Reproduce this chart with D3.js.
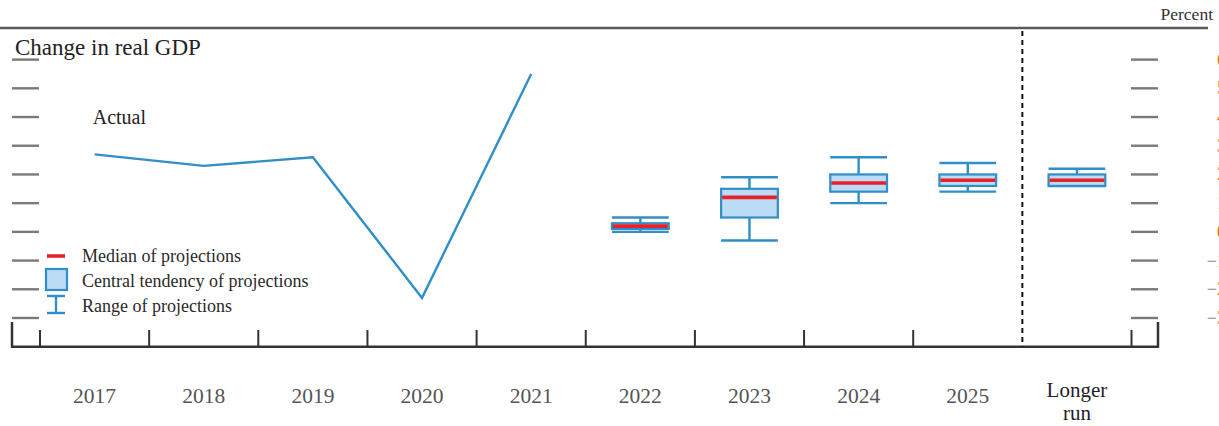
<!DOCTYPE html>
<html>
<head>
<meta charset="utf-8">
<script src="https://cdn.jsdelivr.net/npm/d3@7"></script>
<style>
html,body{margin:0;padding:0;background:#fff;}
svg{display:block;}
text{font-family:"Liberation Serif","Times New Roman",serif;}
</style>
</head>
<body>
<script>
// ---- data ----
const categories = ["2017","2018","2019","2020","2021","2022","2023","2024","2025","Longer run"];
const actualYears = ["2017","2018","2019","2020","2021"];
const actualValues = [2.7, 2.3, 2.6, -2.3, 5.5];
const projYears = ["2022","2023","2024","2025","Longer run"];
const projMedian = [0.2, 1.2, 1.7, 1.8, 1.8];
const ctLow = [0.1, 0.5, 1.4, 1.6, 1.6];
const ctHigh = [0.3, 1.5, 2.0, 2.0, 2.0];
const rangeLow = [0.0, -0.3, 1.0, 1.4, 1.6];
const rangeHigh = [0.5, 1.9, 2.6, 2.4, 2.2];
const yTicks = [6, 5, 4, 3, 2, 1, 0, -1, -2, -3];
const legendLabels = ["Median of projections", "Central tendency of projections", "Range of projections"];

const W = 1219, H = 426;
const svg = d3.select("body").append("svg").attr("width", W).attr("height", H);

const x = d3.scaleBand().domain(categories).range([40, 1131.5]).paddingInner(0).paddingOuter(0);
const y = d3.scaleLinear().domain([-4, 7]).range([346.7, 30.9]);
const bw = x.bandwidth();
const cx = d => x(d) + bw / 2;

const blue = "#2f8fc6", boxFill = "#bcdcf5", red = "#e8202a", tickGray = "#7a7a7a";

// top rule
svg.append("line").attr("x1", 0).attr("x2", 1208).attr("y1", 28).attr("y2", 28)
  .attr("stroke", "#5a5a5a").attr("stroke-width", 2.5);
svg.append("text").attr("x", 1213).attr("y", 20).attr("text-anchor", "end")
  .attr("font-size", 17.5).attr("fill", "#333").text("Percent");

// title
svg.append("text").attr("x", 15).attr("y", 55).attr("font-size", 23).attr("fill", "#222")
  .text("Change in real GDP");

// y tick segments (left and right)
const yt = svg.append("g");
yTicks.forEach(v => {
  yt.append("line").attr("x1", 12).attr("x2", 39).attr("y1", y(v)).attr("y2", y(v))
    .attr("stroke", tickGray).attr("stroke-width", 2.4);
  yt.append("line").attr("x1", 1131).attr("x2", 1158).attr("y1", y(v)).attr("y2", y(v))
    .attr("stroke", tickGray).attr("stroke-width", 2.4);
  // right tick labels (mostly beyond the window edge, as in the reference)
  if (v < 0) {
    yt.append("text").attr("x", 1217).attr("y", y(v) + 6).attr("text-anchor", "end")
      .attr("font-size", 18).attr("fill", "#8a8a8a").text("\u2212");
  }
  yt.append("text").attr("x", 1217).attr("y", y(v) + 6).attr("text-anchor", "start")
    .attr("font-size", 18).attr("fill", "#c8782a").text(Math.abs(v));
});

// bottom axis
const ax = svg.append("g");
ax.append("line").attr("x1", 12).attr("x2", 1158).attr("y1", 346.7).attr("y2", 346.7)
  .attr("stroke", "#333").attr("stroke-width", 2.5);
ax.append("line").attr("x1", 12).attr("x2", 12).attr("y1", 322).attr("y2", 347.9)
  .attr("stroke", "#333").attr("stroke-width", 2.5);
ax.append("line").attr("x1", 1158).attr("x2", 1158).attr("y1", 322).attr("y2", 347.9)
  .attr("stroke", "#333").attr("stroke-width", 2.5);
const boundaries = categories.map(c => x(c)).concat([x.range()[1]]);
boundaries.forEach((b, i) => {
  if (i === 9) return; // dashed separator instead
  ax.append("line").attr("x1", b).attr("x2", b).attr("y1", 330).attr("y2", 346.7)
    .attr("stroke", "#333").attr("stroke-width", 2);
});
// dashed separator
svg.append("line").attr("x1", x("Longer run")).attr("x2", x("Longer run"))
  .attr("y1", y(7)).attr("y2", 346.7)
  .attr("stroke", "#111").attr("stroke-width", 2).attr("stroke-dasharray", "5,4");

// x labels
categories.forEach(c => {
  if (c === "Longer run") {
    const t = svg.append("text").attr("text-anchor", "middle").attr("font-size", 21).attr("fill", "#1e1e2a");
    t.append("tspan").attr("x", cx(c)).attr("y", 397).text("Longer");
    t.append("tspan").attr("x", cx(c)).attr("y", 420).text("run");
  } else {
    svg.append("text").attr("x", cx(c)).attr("y", 403.3).attr("text-anchor", "middle")
      .attr("font-size", 21.5).attr("fill", "#555").text(c);
  }
});

// actual line
const line = d3.line().x((d, i) => cx(actualYears[i])).y(d => y(d));
svg.append("path").datum(actualValues).attr("d", line).attr("fill", "none")
  .attr("stroke", blue).attr("stroke-width", 2.4).attr("stroke-linejoin", "miter");
svg.append("text").attr("x", 92.7).attr("y", 124).attr("font-size", 20).attr("fill", "#222").text("Actual");

// projections
const boxW = bw * 0.52;
const pg = svg.append("g");
projYears.forEach((c, i) => {
  const xc = cx(c), x0 = xc - boxW / 2, x1 = xc + boxW / 2;
  pg.append("line").attr("x1", xc).attr("x2", xc).attr("y1", y(rangeHigh[i])).attr("y2", y(ctHigh[i]))
    .attr("stroke", blue).attr("stroke-width", 2.4);
  pg.append("line").attr("x1", xc).attr("x2", xc).attr("y1", y(ctLow[i])).attr("y2", y(rangeLow[i]))
    .attr("stroke", blue).attr("stroke-width", 2.4);
  pg.append("line").attr("x1", x0).attr("x2", x1).attr("y1", y(rangeHigh[i])).attr("y2", y(rangeHigh[i]))
    .attr("stroke", blue).attr("stroke-width", 2.4);
  pg.append("line").attr("x1", x0).attr("x2", x1).attr("y1", y(rangeLow[i])).attr("y2", y(rangeLow[i]))
    .attr("stroke", blue).attr("stroke-width", 2.4);
  pg.append("rect").attr("x", x0).attr("width", boxW)
    .attr("y", y(ctHigh[i])).attr("height", y(ctLow[i]) - y(ctHigh[i]))
    .attr("fill", boxFill).attr("stroke", blue).attr("stroke-width", 2.2);
  pg.append("line").attr("x1", x0 + 1).attr("x2", x1 - 1).attr("y1", y(projMedian[i])).attr("y2", y(projMedian[i]))
    .attr("stroke", red).attr("stroke-width", 3.6);
});

// legend
const lg = svg.append("g");
lg.append("line").attr("x1", 47).attr("x2", 65).attr("y1", 256).attr("y2", 256)
  .attr("stroke", red).attr("stroke-width", 3.6);
lg.append("rect").attr("x", 46).attr("y", 269).attr("width", 21).attr("height", 21)
  .attr("fill", boxFill).attr("stroke", blue).attr("stroke-width", 2.2);
lg.append("line").attr("x1", 47).attr("x2", 65).attr("y1", 296).attr("y2", 296).attr("stroke", blue).attr("stroke-width", 2.4);
lg.append("line").attr("x1", 47).attr("x2", 65).attr("y1", 313).attr("y2", 313).attr("stroke", blue).attr("stroke-width", 2.4);
lg.append("line").attr("x1", 56).attr("x2", 56).attr("y1", 296).attr("y2", 313).attr("stroke", blue).attr("stroke-width", 2.4);
legendLabels.forEach((t, i) => {
  lg.append("text").attr("x", 82).attr("y", 261.7 + i * 25).attr("font-size", 18).attr("fill", "#2a2a2a").text(t);
});
</script>
</body>
</html>
